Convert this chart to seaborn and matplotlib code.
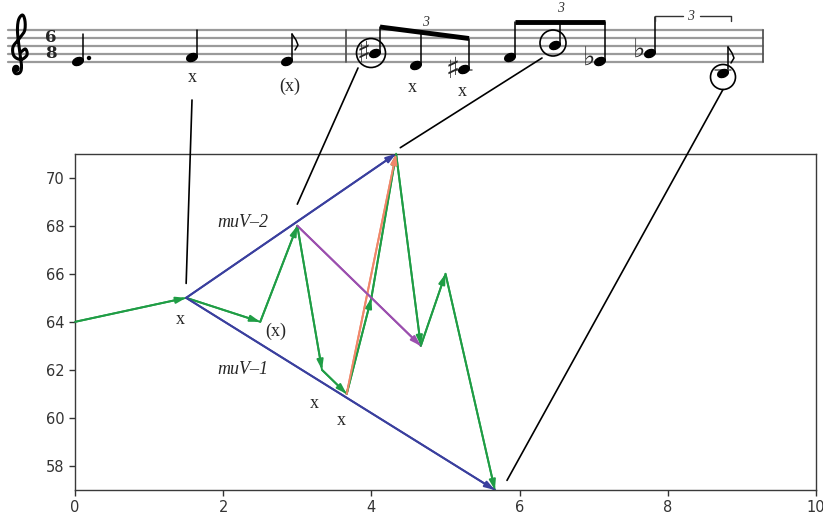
import numpy as np
import pandas as pd
import seaborn as sns
import matplotlib.pyplot as plt
from matplotlib.patches import Ellipse, Circle, ConnectionPatch

sns.set_theme(style="ticks")
plt.rcParams['font.family'] = ['DejaVu Sans']

# melody: onset (quarter notes) and midi pitch
onsets = [0, 1.5, 2.5, 3.0, 10/3, 11/3, 4.0, 13/3, 14/3, 5.0, 17/3]
pitches = [64, 65, 64, 68, 62, 61, 65, 71, 63, 66, 57]

# extra vectors between note indices
blue_pairs = [(1, 7), (1, 10)]
purple_pairs = [(3, 8)]
orange_pairs = [(5, 7)]

# staff: x position of each note, step above bottom line, accidental, stem end
staff_x = [78, 192, 287, 375, 416, 464, 510, 555, 600, 650, 723]
staff_step = [0, 1, 0, 2, -1, -2, 1, 4, 0, 2, -3]
accidentals = ['', '', '', '♯', '', '♯', '', '', '♭', '♭', '']
stem_top = [34, 30, 34, 27, 32.5, 38.5, 22, 22, 22, 17, 47]

green = '#1f9d45'
blue = '#3a3f9e'
purple = '#9b4fae'
orange = '#f0876a'
serif = 'Liberation Serif'

fig = plt.figure(figsize=(8.23, 5.14), dpi=100)
ax = fig.add_axes([75/823, 1 - 490/514, (816 - 75)/823, (490 - 153.7)/514])

df = pd.DataFrame({'onset': onsets, 'pitch': pitches})
sns.lineplot(data=df, x='onset', y='pitch', sort=False, estimator=None,
             color=green, lw=1.4, ax=ax)


def arrow(i, j, c):
    ax.annotate('', xy=(onsets[j], pitches[j]), xytext=(onsets[i], pitches[i]),
                arrowprops=dict(arrowstyle='-|>,head_length=0.5,head_width=0.16',
                                color=c, lw=1.4, shrinkA=0, shrinkB=0))


for i in range(len(onsets) - 1):
    arrow(i, i + 1, green)

for pairs, c in [(orange_pairs, orange), (purple_pairs, purple), (blue_pairs, blue)]:
    for i, j in pairs:
        seg = pd.DataFrame({'onset': [onsets[i], onsets[j]],
                            'pitch': [pitches[i], pitches[j]]})
        sns.lineplot(data=seg, x='onset', y='pitch', sort=False, estimator=None,
                     color=c, lw=1.4, ax=ax)
        arrow(i, j, c)

ax.set_xlim(0, 10)
ax.set_ylim(57, 71)
ax.set_xticks([0, 2, 4, 6, 8, 10])
ax.set_yticks([58, 60, 62, 64, 66, 68, 70])
ax.set_xlabel('')
ax.set_ylabel('')
ax.tick_params(labelsize=10.5, colors='#333333', length=4, width=1)
for s in ax.spines.values():
    s.set_color('#3a3a3a')
    s.set_linewidth(1)

ax.text(2.27, 68.15, 'muV–2', family=serif, style='italic', fontsize=13,
        ha='center', va='center')
ax.text(2.27, 62.0, 'muV–1', family=serif, style='italic', fontsize=13,
        ha='center', va='center')
for tx, ty, s in [(1.42, 64.1, 'x'), (2.71, 63.6, '(x)'),
                  (3.23, 60.6, 'x'), (3.6, 59.9, 'x')]:
    ax.text(tx, ty, s, family=serif, fontsize=13, ha='center', va='center')

# staff drawn in pixel coordinates
st = fig.add_axes([0, 1 - 110/514, 1, 110/514])
st.set_xlim(0, 823)
st.set_ylim(110, 0)
st.axis('off')

bottom = 61.5
for k in range(5):
    st.plot([8, 763], [bottom - 8*k]*2, color='#9a9a9a', lw=1.6, zorder=1)
for bx in [346, 763]:
    st.plot([bx, bx], [29.5, 61.5], color='#555555', lw=1.3)

# treble clef (no installed font has the glyph) as a smoothed stroke
clef = np.array([(21, 52), (25.5, 49), (27, 55), (21, 59.5), (14, 56), (13, 47),
                 (19, 39), (24.5, 31), (25, 21), (22.5, 15), (18.5, 20), (17.5, 32),
                 (19.5, 50), (21.5, 66), (20, 72.5), (15.5, 73.5), (13.5, 69.5),
                 (16.5, 66.5)])
P = np.vstack([clef[0], clef, clef[-1]])
cx, cy = [], []
for k in range(1, len(P) - 2):
    for t in np.linspace(0, 1, 12):
        p0, p1, p2, p3 = P[k - 1], P[k], P[k + 1], P[k + 2]
        pt = 0.5 * ((2*p1) + (-p0 + p2)*t + (2*p0 - 5*p1 + 4*p2 - p3)*t**2
                    + (-p0 + 3*p1 - 3*p2 + p3)*t**3)
        cx.append(pt[0])
        cy.append(pt[1])
st.plot(cx, cy, color='black', lw=2.2, solid_capstyle='round')
st.add_patch(Circle((16, 68.5), 3, color='black'))

st.text(51, 37.5, '6', family='DejaVu Serif', weight='bold', fontsize=12,
        ha='center', va='center')
st.text(51, 54, '8', family='DejaVu Serif', weight='bold', fontsize=12,
        ha='center', va='center')

for x, step, acc, top in zip(staff_x, staff_step, accidentals, stem_top):
    y = bottom - 4*step
    st.add_patch(Ellipse((x, y), 11, 7.5, angle=-22, color='black', zorder=3))
    st.plot([x + 5, x + 5], [y - 1, top], color='black', lw=1.1)
    if step <= -2:
        for ly in np.arange(bottom + 8, y + 1, 8):
            st.plot([x - 8, x + 8], [ly, ly], color='#555555', lw=1.1)
    if acc == '♯':
        st.text(x - 11, y + 1, acc, fontsize=21, ha='center', va='center')
    elif acc == '♭':
        st.text(x - 11, y - 3, acc, fontsize=19, ha='center', va='center')

# dot, flags, beams, tuplets
st.add_patch(Circle((89, 58), 1.5, color='black'))
for i in [2, 10]:
    fx = staff_x[i] + 5
    ft = stem_top[i]
    st.plot([fx, fx + 4, fx + 6, fx + 3], [ft, ft + 6, ft + 11, ft + 16],
            color='black', lw=1.1)
st.plot([staff_x[3] + 5, staff_x[5] + 5], [stem_top[3], stem_top[5]],
        color='black', lw=3.5, solid_capstyle='butt')
st.plot([staff_x[6] + 5, staff_x[8] + 5], [stem_top[6], stem_top[8]],
        color='black', lw=3.5, solid_capstyle='butt')
st.text(426, 22, '3', family=serif, style='italic', fontsize=10,
        ha='center', va='center', color='#333333')
st.text(561, 9, '3', family=serif, style='italic', fontsize=10,
        ha='center', va='center', color='#333333')
st.plot([655, 655, 683], [21, 16, 16], color='#333333', lw=1)
st.plot([700, 731, 731], [16, 16, 21], color='#333333', lw=1)
st.text(691, 16, '3', family=serif, style='italic', fontsize=10,
        ha='center', va='center', color='#333333')

for ccx, ccy, r in [(371, 53, 14.5), (553, 43, 13), (723, 77, 12.5)]:
    st.add_patch(Circle((ccx, ccy), r, fill=False, color='black', lw=1.2))

for tx, ty, s in [(192, 78, 'x'), (290, 86, '(x)'), (412, 88, 'x'), (462, 92, 'x')]:
    st.text(tx, ty, s, family=serif, fontsize=13, ha='center', va='center')

# connectors from the staff down to the chart
links = [((192, 100), (1.5, 65.6)), ((358, 68), (3.0, 68.9)),
         ((542, 58), (4.39, 71.25)), ((723, 89.5), (5.83, 57.4))]
for a, b in links:
    fig.add_artist(ConnectionPatch(xyA=a, coordsA=st.transData, xyB=b,
                                   coordsB=ax.transData, color='black', lw=1.2))

fig.savefig('out.png', dpi=100)
